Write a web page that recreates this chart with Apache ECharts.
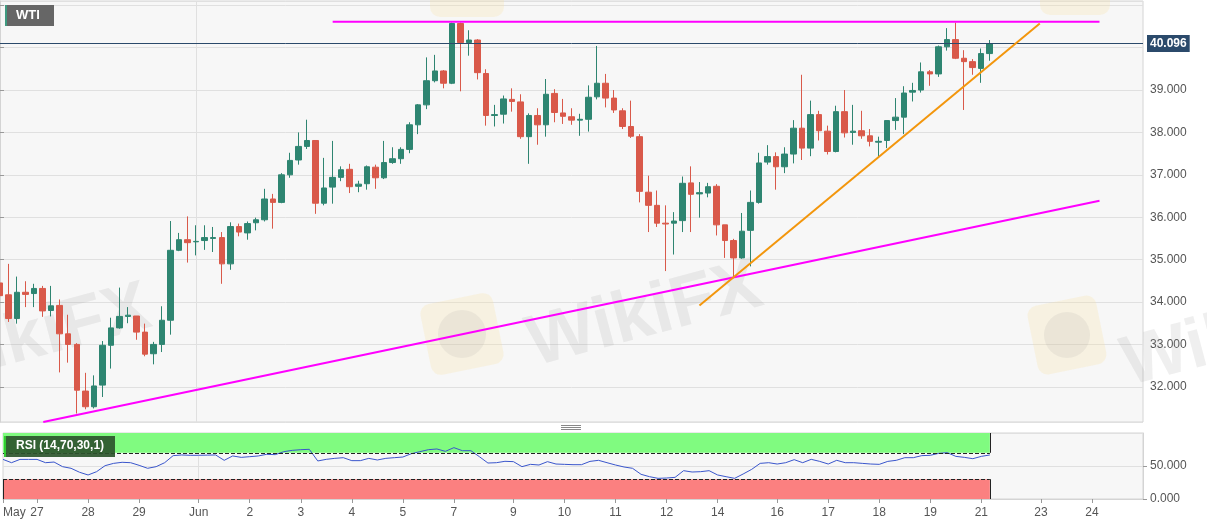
<!DOCTYPE html>
<html><head><meta charset="utf-8">
<script src="https://cdn.jsdelivr.net/npm/echarts@6/dist/echarts.min.js"></script>
<style>html,body{margin:0;padding:0;background:#fff}#c{width:1207px;height:526px}</style>
</head><body><div id="c"></div>
<script>
// 4-hour slots on the category axis (117 candles + empty future slots)
const slotCount = 135;
const slots = Array.from({length: slotCount}, (_, i) => 's' + i);
// day tick labels: [slot index, text]
const dayTicks = [[0,'May'],[4,'27'],[10,'28'],[16,'29'],[23,'Jun'],[29,'2'],[35,'3'],[41,'4'],[47,'5'],[53,'7'],[60,'9'],[66,'10'],[72,'11'],[78,'12'],[84,'14'],[91,'16'],[97,'17'],[103,'18'],[109,'19'],[115,'21'],[122,'23'],[128,'24']];
// WTI candles: [open, close, low, high]
const ohlc = [
[34.45,34.15,34.00,34.60],[34.17,33.61,33.53,34.90],[33.61,34.23,33.49,34.60],[34.23,34.18,33.88,34.49],
[34.20,34.32,33.88,34.43],[34.32,33.79,33.65,34.38],[33.80,33.91,33.66,34.38],[33.92,33.25,32.34,34.06],
[33.25,33.00,32.57,33.70],[33.00,31.92,31.37,33.03],[31.90,31.53,31.47,32.33],[31.53,32.02,31.49,32.27],
[32.04,32.98,31.76,33.08],[32.98,33.39,32.43,33.63],[33.39,33.66,33.37,34.34],[33.66,33.69,33.50,33.88],
[33.67,33.29,33.11,33.67],[33.29,32.77,32.72,33.49],[32.78,33.00,32.53,33.06],[33.00,33.57,32.82,33.90],
[33.57,35.22,33.23,35.91],[35.22,35.47,35.20,35.63],[35.47,35.40,34.93,36.02],[35.42,35.43,35.10,35.81],
[35.45,35.52,35.23,35.81],[35.50,35.52,35.18,35.77],[35.52,34.90,34.43,35.65],[34.90,35.78,34.76,35.88],
[35.78,35.65,35.55,35.85],[35.63,35.85,35.47,35.90],[35.87,35.94,35.69,35.99],[35.94,36.43,35.90,36.67],
[36.43,36.35,35.73,36.55],[36.35,37.00,36.33,37.04],[37.00,37.34,36.93,37.52],[37.35,37.67,37.24,38.00],
[37.67,37.81,37.61,38.30],[37.81,36.33,36.08,37.81],[36.33,36.69,36.28,37.40],[36.71,36.94,36.32,37.80],
[36.94,37.12,36.85,37.20],[37.13,36.72,36.57,37.26],[36.73,36.78,36.59,36.86],[36.79,37.19,36.65,37.22],
[37.18,36.93,36.67,37.24],[36.93,37.29,36.90,37.80],[37.29,37.38,37.26,37.65],[37.38,37.60,37.26,37.65],
[37.60,38.18,37.51,38.24],[38.18,38.65,37.96,38.67],[38.65,39.22,38.55,39.77],[39.22,39.45,39.18,39.83],
[39.45,39.16,39.04,39.47],[39.16,40.57,39.14,40.59],[40.57,40.12,38.97,40.59],[40.12,40.18,39.81,40.41],
[40.18,39.41,39.25,40.20],[39.39,38.40,38.16,39.49],[38.40,38.42,38.14,38.65],[38.43,38.79,38.21,38.87],
[38.78,38.73,38.49,39.04],[38.72,37.90,37.85,38.90],[37.90,38.40,37.26,38.45],[38.40,38.18,37.71,38.57],
[38.18,38.90,37.90,39.26],[38.92,38.47,38.24,39.02],[38.46,38.38,38.20,38.79],[38.37,38.29,38.18,38.57],
[38.29,38.31,37.92,38.44],[38.31,38.83,38.02,39.11],[38.84,39.16,38.78,40.04],[39.16,38.81,38.59,39.38],
[38.81,38.53,38.46,39.00],[38.51,38.14,38.08,38.57],[38.14,37.91,37.87,38.75],[37.90,36.61,36.35,37.96],
[36.59,36.28,35.65,36.98],[36.28,35.86,35.77,36.63],[35.86,35.84,34.73,36.28],[35.86,35.91,35.12,36.12],
[35.92,36.80,35.65,36.96],[36.81,36.54,35.65,37.20],[36.55,36.58,35.99,36.83],[36.57,36.72,36.47,36.81],
[36.73,35.82,35.57,36.78],[35.82,35.45,35.04,35.82],[35.45,35.04,34.59,35.49],[35.04,35.67,35.02,36.10],
[35.69,36.35,34.84,36.63],[36.35,37.28,36.32,37.52],[37.30,37.43,37.24,37.70],[37.43,37.19,36.65,37.53],
[37.19,37.49,37.04,37.65],[37.49,38.10,37.27,38.29],[38.10,37.63,37.35,39.36],[37.63,38.42,37.44,38.75],
[38.42,38.04,37.81,38.51],[38.03,37.55,37.48,38.16],[37.55,38.49,37.53,38.63],[38.49,37.99,37.88,39.00],
[38.00,38.03,37.71,38.65],[38.04,37.92,37.85,38.51],[37.92,37.79,37.67,38.08],[37.77,37.79,37.43,37.90],
[37.81,38.28,37.63,38.28],[38.28,38.36,38.06,38.81],[38.36,38.93,37.96,39.09],[38.95,38.99,38.73,39.17],
[39.00,39.43,38.94,39.65],[39.43,39.38,39.10,39.47],[39.38,40.02,39.31,40.05],[40.02,40.19,39.93,40.46],
[40.19,39.75,39.73,40.59],[39.75,39.67,38.53,39.94],[39.67,39.53,39.36,39.73],[39.51,39.86,39.17,39.98],
[39.86,40.096,39.69,40.18]
];
// RSI (14) values per candle
const rsi = [60,55,60,60,60,55,56,49,46.5,40.5,36.4,41.4,50.5,54,55.6,55,51,46.5,49,55,
65.7,66.7,66.2,66.2,66.5,66.7,58.6,65.2,63.1,64.1,65.2,67.7,67.2,71.7,73.7,74.7,75.3,57.6,60.1,61.6,
62.6,58.1,58.1,61.6,59.1,61.6,62.6,63.6,68.7,71.7,74.7,75.8,72.2,77.8,73.2,73.2,64.1,54.5,55,57.1,
56.6,49,52.5,51.5,56.6,53,52.5,52,52,57,58.6,55,51.5,48.5,46.5,37.4,33.8,31.3,31.8,32.8,
42.9,40.9,41.4,42.9,36.4,33.8,31.3,37.9,44.9,54,55,53,55,59.6,55,60.1,57,53,58.6,55,
55,54,53,52.5,57,58.6,62.6,62.6,65.7,66.2,69.2,70.2,64.6,63.1,61.1,64.6,66.7];
// RSI band levels
const rsiUpper = 70, rsiLower = 30;
// trend lines: [slot position, price]
const resistanceLine = [[39.0, 40.61], [128.9, 40.61]];
const supportLine = [[5.07, 31.17], [128.9, 36.39]];
const risingLine = [[82.0, 33.92], [121.9, 40.57]];

const lastClose = ohlc[ohlc.length - 1][1];
const lastSlot = slots[ohlc.length - 1];
const tickMap = {};
dayTicks.forEach(([i, t]) => { tickMap[i] = t; });
const showTick = (i) => tickMap[i] !== undefined;

const UP = '#2e8571', DOWN = '#d9594a', FONT = 'Liberation Sans, Arial, sans-serif';
const WM = 'rgba(150,150,150,0.15)', LOGO = 'rgba(250,225,150,0.22)';
const chart = echarts.init(document.getElementById('c'), null, {renderer: 'canvas'});
chart.setOption({
  animation: false,
  backgroundColor: '#ffffff',
  textStyle: {fontFamily: FONT},
  grid: [
    {left: 0, top: 1, width: 1143, height: 421, show: true, backgroundColor: '#f7f7f7', borderColor: '#d4d4d4', borderWidth: 1},
    {left: 0, top: 433, width: 1143, height: 66, show: true, backgroundColor: '#f7f7f7', borderColor: '#d4d4d4', borderWidth: 1}
  ],
  xAxis: [
    {type: 'category', gridIndex: 0, data: slots, boundaryGap: false,
     axisLine: {show: false}, axisTick: {show: false}, axisLabel: {show: false},
     splitLine: {show: true, interval: (i) => i === 23, lineStyle: {color: '#e0e0e0'}}},
    {type: 'category', gridIndex: 1, data: slots, boundaryGap: false,
     axisLine: {show: true, lineStyle: {color: '#d4d4d4'}},
     axisTick: {show: true, interval: showTick, length: 4, lineStyle: {color: '#999'}},
     axisLabel: {interval: showTick, formatter: (v, i) => tickMap[i] || '', color: '#555', fontSize: 12, margin: 8, alignMinLabel: 'left'},
     splitLine: {show: true, interval: (i) => i === 23, lineStyle: {color: '#e0e0e0'}}},
    {type: 'value', gridIndex: 0, min: 0, max: slotCount - 1, show: false}
  ],
  yAxis: [
    {type: 'value', gridIndex: 0, position: 'right', min: 31.17, max: 41.1, splitNumber: 10,
     axisLine: {show: true, lineStyle: {color: '#d4d4d4'}},
     axisTick: {show: true, length: 4, lineStyle: {color: '#999'}},
     axisLabel: {color: '#555', fontSize: 12, margin: 7, showMinLabel: false, showMaxLabel: false,
       formatter: (v) => (v >= 31.9 && v <= 39.1) ? v.toFixed(3) : ''},
     splitLine: {show: true, lineStyle: {color: '#e0e0e0'}}},
    {type: 'value', gridIndex: 1, position: 'right', min: 0, max: 100, interval: 50,
     axisLine: {show: true, lineStyle: {color: '#d4d4d4'}},
     axisTick: {show: true, length: 4, lineStyle: {color: '#999'}},
     axisLabel: {color: '#555', fontSize: 12, margin: 7, showMaxLabel: false, formatter: (v) => v.toFixed(3)},
     splitLine: {show: true, lineStyle: {color: '#e0e0e0'}}}
  ],
  series: [
    {type: 'candlestick', xAxisIndex: 0, yAxisIndex: 0, data: ohlc, barWidth: 6, z: 3,
     itemStyle: {color: UP, color0: DOWN, borderColor: UP, borderColor0: DOWN, borderWidth: 1},
     markLine: {symbol: 'none', silent: true, animation: false,
       data: [{yAxis: lastClose}],
       lineStyle: {color: '#2b4a6b', width: 1, type: 'solid'},
       label: {position: 'end', formatter: lastClose.toFixed(3), backgroundColor: '#2b4a6b', color: '#fff',
         fontWeight: 'bold', fontSize: 12, padding: [3, 3, 2, 3], distance: 4}}},
    {type: 'line', xAxisIndex: 2, yAxisIndex: 0, data: supportLine, symbol: 'none', z: 5,
     lineStyle: {color: '#f0f', width: 2}},
    {type: 'line', xAxisIndex: 2, yAxisIndex: 0, data: resistanceLine, symbol: 'none', z: 5,
     lineStyle: {color: '#f0f', width: 2}},
    {type: 'line', xAxisIndex: 2, yAxisIndex: 0, data: risingLine, symbol: 'none', z: 5,
     lineStyle: {color: '#f3960c', width: 2}},
    {type: 'line', xAxisIndex: 1, yAxisIndex: 1, data: rsi, symbol: 'none', z: 4,
     lineStyle: {color: '#3a56cc', width: 1},
     markArea: {silent: true,
       data: [
         [{xAxis: slots[0], yAxis: rsiUpper, itemStyle: {color: '#80fb80'}}, {xAxis: lastSlot, yAxis: 100}],
         [{xAxis: slots[0], yAxis: 0, itemStyle: {color: '#fb8080'}}, {xAxis: lastSlot, yAxis: rsiLower}]
       ]},
     markLine: {symbol: 'none', silent: true, label: {show: false},
       lineStyle: {color: '#222', width: 1, type: [4, 2]},
       data: [
         [{coord: [slots[0], rsiUpper]}, {coord: [lastSlot, rsiUpper]}],
         [{coord: [slots[0], rsiLower]}, {coord: [lastSlot, rsiLower]}],
         [{coord: [lastSlot, rsiUpper], lineStyle: {type: 'solid'}}, {coord: [lastSlot, 100]}],
         [{coord: [lastSlot, 0], lineStyle: {type: 'solid'}}, {coord: [lastSlot, rsiLower]}],
         [{coord: [slots[0], 0], lineStyle: {type: 'solid'}}, {coord: [slots[0], rsiLower]}]
       ]}}
  ],
  graphic: [
    {type: 'rect', shape: {x: 425, y: 298, width: 74, height: 72, r: 10}, rotation: 0.2, originX: 462, originY: 334, style: {fill: LOGO}, silent: true, z: 1},
    {type: 'circle', shape: {cx: 462, cy: 334, r: 24}, style: {fill: 'rgba(150,150,150,0.12)'}, silent: true, z: 1},
    {type: 'rect', shape: {x: 1032, y: 300, width: 70, height: 70, r: 10}, rotation: 0.2, originX: 1067, originY: 335, style: {fill: LOGO}, silent: true, z: 1},
    {type: 'circle', shape: {cx: 1067, cy: 335, r: 23}, style: {fill: 'rgba(150,150,150,0.12)'}, silent: true, z: 1},
    {type: 'rect', shape: {x: 430, y: -55, width: 74, height: 72, r: 10}, style: {fill: LOGO}, silent: true, z: 1},
    {type: 'rect', shape: {x: 1040, y: -55, width: 70, height: 70, r: 10}, style: {fill: LOGO}, silent: true, z: 1},
    {type: 'text', x: 520, y: 312, rotation: 0.26, silent: true, z: 1,
     style: {text: 'WikiFX', font: 'bold 72px ' + FONT, fill: WM}},
    {type: 'text', x: -85, y: 333, rotation: 0.26, silent: true, z: 1,
     style: {text: 'WikiFX', font: 'bold 70px ' + FONT, fill: WM}},
    {type: 'text', x: 1115, y: 333, rotation: 0.26, silent: true, z: 1,
     style: {text: 'WikiFX', font: 'bold 70px ' + FONT, fill: WM}},
    {type: 'rect', shape: {x: 5, y: 5, width: 49, height: 21}, style: {fill: '#666'}, z: 10},
    {type: 'rect', shape: {x: 5, y: 5, width: 2, height: 21}, style: {fill: '#3f9a80'}, z: 11},
    {type: 'text', x: 16, y: 9, z: 11, style: {text: 'WTI', font: 'bold 13px ' + FONT, fill: '#fff'}},
    {type: 'rect', shape: {x: 4, y: 436, width: 111, height: 21}, style: {fill: 'rgba(45,85,45,0.92)'}, z: 10},
    {type: 'rect', shape: {x: 4, y: 436, width: 2, height: 21}, style: {fill: '#33cc33'}, z: 11},
    {type: 'text', x: 16, y: 440, z: 11, style: {text: 'RSI (14,70,30,1)', font: 'bold 12px ' + FONT, fill: '#fff'}},
    {type: 'rect', shape: {x: 561, y: 425, width: 20, height: 1}, style: {fill: '#888'}, z: 10},
    {type: 'rect', shape: {x: 561, y: 427, width: 20, height: 1}, style: {fill: '#888'}, z: 10},
    {type: 'rect', shape: {x: 561, y: 429, width: 20, height: 1}, style: {fill: '#888'}, z: 10}
  ]
});
</script></body></html>
